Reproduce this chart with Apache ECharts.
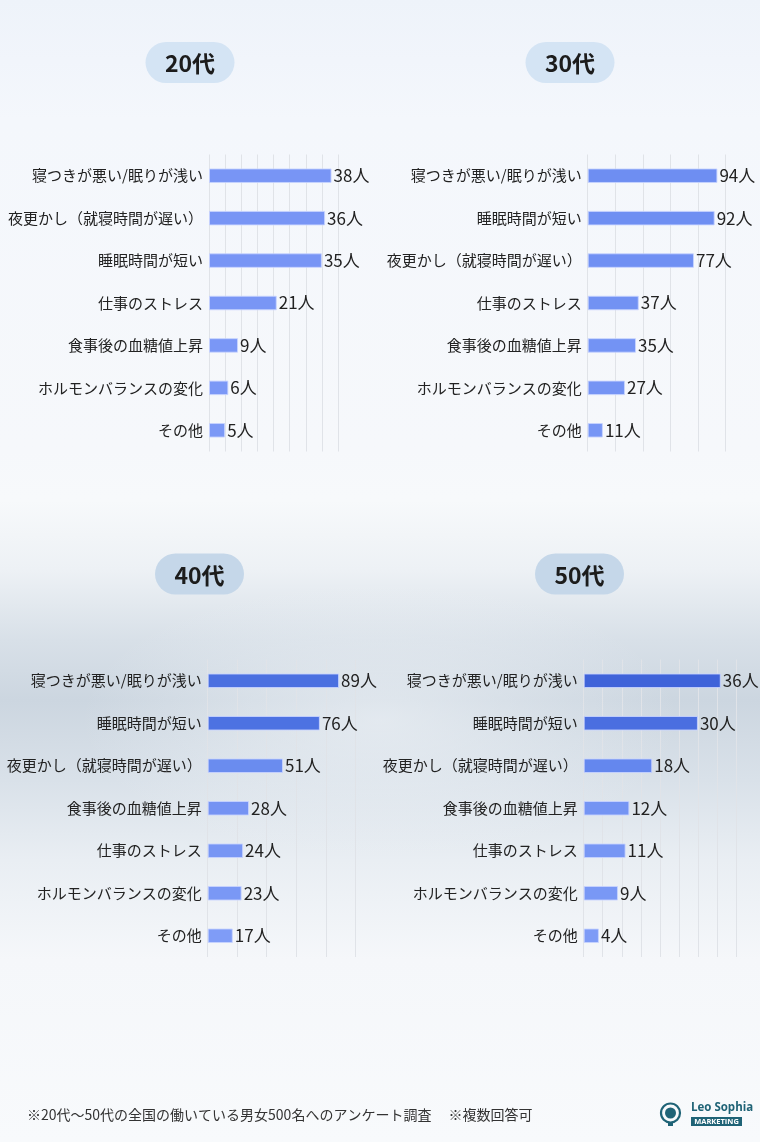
<!DOCTYPE html>
<html>
<head>
<meta charset="utf-8">
<script src="https://cdn.jsdelivr.net/npm/echarts@6/dist/echarts.min.js"></script>
<style>
html,body{margin:0;padding:0;}
#bg{position:absolute;left:0;top:0;width:760px;height:1142px;
background:
 radial-gradient(ellipse 300px 140px at 380px 720px, rgba(240,244,248,0.6), rgba(240,244,248,0) 100%),
 linear-gradient(to bottom,#eef3fa 0px,#f4f7fc 120px,#f6f8fb 450px,#f7f9fb 500px,#edf1f5 570px,#d8e0e8 640px,#ccd6e0 700px,#d9e1e9 780px,#e9eef3 860px,#f5f7fa 960px,#f8fafc 1142px);}
#chart{position:absolute;left:0;top:0;width:760px;height:1142px;}
</style>
</head>
<body>
<div id="bg"></div>
<div id="chart"></div>
<script>
// ---- data ----
const titles = ['20代', '30代', '40代', '50代'];
const cats20 = ['寝つきが悪い/眠りが浅い', '夜更かし（就寝時間が遅い）', '睡眠時間が短い', '仕事のストレス', '食事後の血糖値上昇', 'ホルモンバランスの変化', 'その他'];
const vals20 = [38, 36, 35, 21, 9, 6, 5];
const cats30 = ['寝つきが悪い/眠りが浅い', '睡眠時間が短い', '夜更かし（就寝時間が遅い）', '仕事のストレス', '食事後の血糖値上昇', 'ホルモンバランスの変化', 'その他'];
const vals30 = [94, 92, 77, 37, 35, 27, 11];
const cats40 = ['寝つきが悪い/眠りが浅い', '睡眠時間が短い', '夜更かし（就寝時間が遅い）', '食事後の血糖値上昇', '仕事のストレス', 'ホルモンバランスの変化', 'その他'];
const vals40 = [89, 76, 51, 28, 24, 23, 17];
const cats50 = ['寝つきが悪い/眠りが浅い', '睡眠時間が短い', '夜更かし（就寝時間が遅い）', '食事後の血糖値上昇', '仕事のストレス', 'ホルモンバランスの変化', 'その他'];
const vals50 = [36, 30, 18, 12, 11, 9, 4];
const axisMax = [40, 100, 100, 40];
const axisStep = [5, 20, 20, 5];
const unit = '人';
const footnote = '※20代〜50代の全国の働いている男女500名へのアンケート調査　 ※複数回答可';

// ---- styles / layout ----
const FONT = "'Noto Sans CJK JP', 'Noto Sans', sans-serif";
const panels = [
  {cats: cats20, vals: vals20, grid: {left: 209, top: 154.5, width: 129, height: 297},
   colors: ['#7895f5','#7895f5','#7895f5','#7996f5','#7a97f6','#7b98f6','#7c99f6'], pill: [190, 62.5], pillColor: '#d4e4f4'},
  {cats: cats30, vals: vals30, grid: {left: 587.7, top: 154.5, width: 138, height: 297},
   colors: ['#6e8ef2','#6f8ff2','#7090f3','#7292f3','#7393f4','#7594f4','#7796f5'], pill: [570, 62.5], pillColor: '#d4e4f4'},
  {cats: cats40, vals: vals40, grid: {left: 207.7, top: 659.5, width: 147.6, height: 297.5},
   colors: ['#4b70e0','#4d72e2','#6a8cef','#7593f3','#7896f4','#7a98f5','#7f9cf7'], pill: [199.5, 574], pillColor: '#c5d7e9'},
  {cats: cats50, vals: vals50, grid: {left: 583.7, top: 659.5, width: 152.3, height: 297.5},
   colors: ['#3f63d9','#4a6ee0','#6487ee','#7494f3','#7796f4','#7998f5','#7e9bf6'], pill: [579.5, 574], pillColor: '#c5d7e9'}
];

const chart = echarts.init(document.getElementById('chart'), null, {renderer: 'canvas'});

const grids = [], xAxes = [], yAxes = [], series = [], graphics = [];
panels.forEach((p, i) => {
  grids.push(Object.assign({containLabel: false}, p.grid));
  xAxes.push({
    type: 'value', gridIndex: i, min: 0, max: axisMax[i], interval: axisStep[i],
    axisLabel: {show: false}, axisLine: {show: false}, axisTick: {show: false},
    splitLine: {show: true, lineStyle: {color: '#e0e3e8', width: 1}}
  });
  yAxes.push({
    type: 'category', gridIndex: i, data: p.cats, inverse: true,
    axisLine: {show: false}, axisTick: {show: false},
    axisLabel: {fontSize: 15, color: '#222', margin: 6, fontFamily: FONT}
  });
  series.push({
    type: 'bar', xAxisIndex: i, yAxisIndex: i, barWidth: 14.5,
    data: p.vals.map((v, k) => ({value: v, itemStyle: {color: p.colors[k]}})),
    itemStyle: {borderColor: 'rgba(200,212,255,0.85)', borderWidth: 1},
    label: {show: true, position: 'right', distance: 2, fontSize: 17, color: '#222', fontFamily: FONT,
      formatter: (d) => d.value + unit},
    silent: true, animation: false
  });
  graphics.push({
    type: 'rect', shape: {x: p.pill[0] - 44.5, y: p.pill[1] - 20.5, width: 89, height: 41, r: 20.5},
    style: {fill: p.pillColor}
  });
  graphics.push({
    type: 'text', x: p.pill[0], y: p.pill[1] + 1,
    style: {text: titles[i], font: "bold 23px " + FONT, fill: '#1c1c1c', textAlign: 'center', textVerticalAlign: 'middle'}
  });
});

// footer
graphics.push({
  type: 'text', x: 27, y: 1115,
  style: {text: footnote, font: "14px " + FONT, fill: '#333', textAlign: 'left', textVerticalAlign: 'middle'}
});
// logo
graphics.push({type: 'circle', shape: {cx: 670.5, cy: 1113, r: 9.5}, style: {fill: 'none', stroke: '#1f6376', lineWidth: 2.2}});
graphics.push({type: 'circle', shape: {cx: 670.5, cy: 1113, r: 5.5}, style: {fill: '#1f6376'}});
graphics.push({type: 'rect', shape: {x: 668, y: 1122, width: 5, height: 4}, style: {fill: '#1f6376'}});
graphics.push({type: 'text', x: 691, y: 1108, style: {text: 'Leo Sophia', font: "bold 11.5px 'Open Sans', sans-serif", fill: '#1f6376', textVerticalAlign: 'middle'}});
graphics.push({type: 'rect', shape: {x: 691, y: 1117, width: 51, height: 9}, style: {fill: '#1f6376'}});
graphics.push({type: 'text', x: 716.5, y: 1121.7, style: {text: 'MARKETING', font: "bold 7.5px 'Open Sans', sans-serif", fill: '#fff', textAlign: 'center', textVerticalAlign: 'middle'}});

chart.setOption({
  backgroundColor: 'transparent',
  animation: false,
  grid: grids, xAxis: xAxes, yAxis: yAxes, series: series,
  graphic: graphics
});
</script>
</body>
</html>
